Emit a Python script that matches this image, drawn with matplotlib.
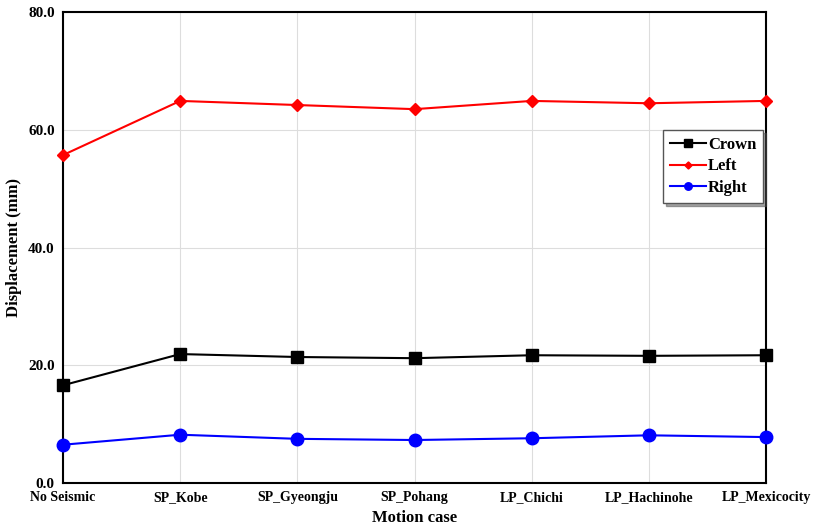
import matplotlib
matplotlib.use("Agg")
import matplotlib.pyplot as plt

categories = ["No Seismic", "SP_Kobe", "SP_Gyeongju", "SP_Pohang", "LP_Chichi", "LP_Hachinohe", "LP_Mexicocity"]
crown = [16.6, 21.9, 21.4, 21.2, 21.7, 21.6, 21.7]
left = [55.7, 64.9, 64.2, 63.5, 64.9, 64.5, 64.9]
right = [6.5, 8.2, 7.5, 7.3, 7.6, 8.1, 7.8]
yticks = [0, 20, 40, 60, 80]

plt.rcParams['font.family'] = ['Liberation Serif', 'DejaVu Serif']
plt.rcParams['font.weight'] = 'bold'

fig = plt.figure(figsize=(8.13, 5.27), dpi=100)
ax = fig.add_axes([0.0775, 0.0835, 0.8647, 0.8937])
x = list(range(len(categories)))
ax.plot(x, crown, color='black', marker='s', markersize=9, lw=1.5, label='Crown', zorder=3, clip_on=False)
ax.plot(x, left, color='red', marker='D', markersize=6, lw=1.5, label='Left', zorder=3, clip_on=False)
ax.plot(x, right, color='blue', marker='o', markersize=9, lw=1.5, label='Right', zorder=3, clip_on=False)

ax.set_xlim(0, len(categories) - 1)
ax.set_ylim(0, 80)
ax.set_xticks(x)
ax.set_xticklabels(categories, fontsize=10, fontweight='bold')
ax.set_yticks(yticks)
ax.set_yticklabels([f"{v:.1f}" for v in yticks], fontsize=11, fontweight='bold')
ax.tick_params(length=0, pad=6)
ax.grid(True, color='#dddddd', lw=0.8)
ax.set_axisbelow(True)
for s in ax.spines.values():
    s.set_linewidth(1.5)
    s.set_color('black')
ax.set_xlabel("Motion case", fontsize=12, fontweight='bold')
ax.xaxis.set_label_coords(0.5, -0.057)
ax.set_ylabel("Displacement (mm)", fontsize=12, fontweight='bold')
ax.yaxis.set_label_coords(-0.058, 0.5)

leg = ax.legend(loc='upper right', bbox_to_anchor=(0.9957, 0.7495), borderaxespad=0,
                fancybox=False, shadow=True,
                edgecolor='#555555', fontsize=12, handlelength=2.2, handletextpad=0.1,
                borderpad=0.4, labelspacing=0.35, framealpha=1, markerscale=0.6)
for t in leg.get_texts():
    t.set_fontweight('bold')

fig.savefig("out.png", dpi=100)
